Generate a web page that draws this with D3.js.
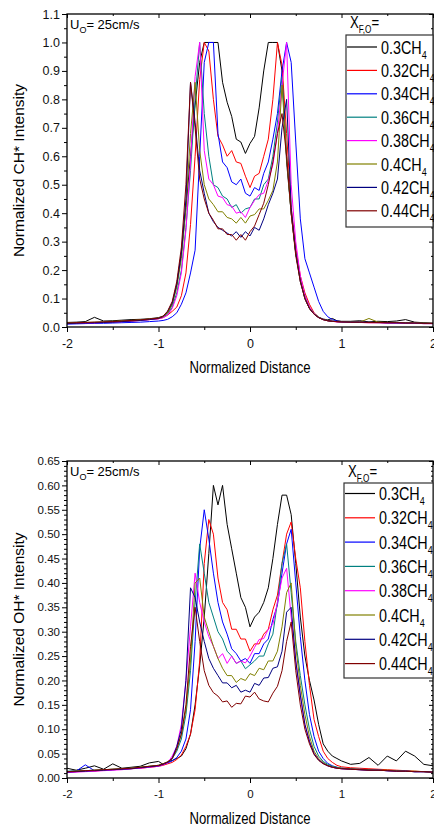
<!DOCTYPE html>
<html><head><meta charset="utf-8">
<script src="https://cdn.jsdelivr.net/npm/d3@7"></script>
<style>
html,body{margin:0;padding:0;background:#fff;}
svg{display:block;font-family:"Liberation Sans",Arial,sans-serif;}
</style></head>
<body><svg id="chart" width="434" height="828"></svg>
<script>
// ---------- DATA ----------
const xGrid = [-2,-1.9,-1.8,-1.7,-1.6,-1.5,-1.4,-1.3,-1.2,-1.1,-1.0,
 -0.95,-0.9,-0.85,-0.8,-0.75,-0.7,-0.65,-0.6,-0.55,
 -0.5,-0.45,-0.4,-0.35,-0.3,-0.25,-0.2,-0.15,-0.1,-0.05,
 0,0.05,0.1,0.15,0.2,0.25,0.3,0.35,0.4,0.45,
 0.5,0.55,0.6,0.65,0.7,0.75,0.8,0.85,0.9,0.95,1.0,
 1.1,1.2,1.3,1.4,1.5,1.6,1.7,1.8,1.9,2.0];

const seriesLabels = ["0.3","0.32","0.34","0.36","0.38","0.4","0.42","0.44"];
const seriesColors = ["#000000","#ff0000","#0000ff","#008080","#ff00ff","#808000","#000080","#800000"];

// CH* intensity
const ch030 = [0.016,0.017,0.019,0.034,0.021,0.022,0.024,0.026,0.027,0.029,0.033,
 0.038,0.05,0.08,0.15,0.26,0.42,0.6,0.78,0.93,
 1.0,1.0,1.0,1.0,0.86,0.79,0.74,0.66,0.65,0.61,
 0.645,0.67,0.77,0.9,1.0,1.0,1.0,0.9,0.58,0.4,
 0.26,0.17,0.1,0.065,0.045,0.034,0.028,0.025,0.03,0.022,0.02,
 0.02,0.022,0.018,0.02,0.019,0.021,0.026,0.017,0.015,0.013];
const ch032 = [0.012,0.013,0.013,0.014,0.016,0.017,0.019,0.021,0.023,0.026,0.029,
 0.033,0.042,0.055,0.07,0.11,0.19,0.36,0.6,0.87,
 1.0,0.97,0.8,0.67,0.64,0.6,0.62,0.58,0.575,0.53,
 0.49,0.53,0.54,0.6,0.66,0.8,1.0,0.92,0.68,0.42,
 0.28,0.18,0.12,0.08,0.05,0.035,0.026,0.022,0.02,0.018,0.017,
 0.016,0.016,0.015,0.015,0.014,0.014,0.013,0.013,0.012,0.012];
const ch034 = [0.01,0.011,0.012,0.013,0.013,0.014,0.015,0.016,0.017,0.019,0.021,
 0.023,0.027,0.036,0.05,0.08,0.12,0.19,0.27,0.6,
 0.93,1.0,1.0,0.68,0.58,0.56,0.51,0.5,0.52,0.47,
 0.46,0.49,0.48,0.54,0.58,0.66,0.75,0.9,1.0,0.93,
 0.65,0.38,0.24,0.19,0.14,0.09,0.055,0.036,0.026,0.021,0.019,
 0.018,0.017,0.016,0.016,0.015,0.014,0.014,0.013,0.012,0.012];
const ch036 = [0.013,0.014,0.015,0.016,0.017,0.018,0.02,0.022,0.024,0.027,0.03,
 0.035,0.045,0.07,0.12,0.2,0.35,0.55,0.8,1.0,
 0.75,0.6,0.5,0.49,0.46,0.45,0.42,0.43,0.4,0.415,
 0.42,0.45,0.45,0.5,0.52,0.6,0.72,0.88,0.6,0.4,
 0.26,0.17,0.11,0.07,0.048,0.035,0.027,0.023,0.021,0.019,0.018,
 0.017,0.016,0.016,0.015,0.015,0.014,0.014,0.013,0.013,0.012];
const ch038 = [0.012,0.013,0.014,0.015,0.016,0.018,0.019,0.021,0.023,0.026,0.029,
 0.033,0.042,0.065,0.11,0.19,0.34,0.58,0.88,1.0,
 0.62,0.52,0.5,0.46,0.455,0.43,0.425,0.4,0.405,0.385,
 0.42,0.445,0.465,0.47,0.515,0.57,0.68,0.85,1.0,0.5,
 0.3,0.18,0.11,0.07,0.046,0.033,0.026,0.022,0.02,0.018,0.017,
 0.016,0.016,0.015,0.015,0.014,0.014,0.013,0.013,0.012,0.012];
const ch040 = [0.014,0.015,0.016,0.017,0.018,0.02,0.021,0.023,0.025,0.028,0.031,
 0.036,0.05,0.08,0.14,0.24,0.42,0.68,0.86,0.62,
 0.5,0.45,0.43,0.405,0.405,0.385,0.38,0.365,0.385,0.365,
 0.39,0.395,0.415,0.415,0.445,0.48,0.58,0.85,0.6,0.4,
 0.26,0.16,0.1,0.065,0.045,0.033,0.026,0.022,0.02,0.019,0.018,
 0.018,0.017,0.03,0.017,0.016,0.016,0.015,0.015,0.014,0.013];
const ch042 = [0.012,0.013,0.014,0.015,0.016,0.017,0.019,0.021,0.023,0.026,0.03,
 0.037,0.055,0.085,0.15,0.26,0.45,0.86,0.72,0.55,
 0.47,0.4,0.37,0.35,0.34,0.33,0.32,0.335,0.315,0.335,
 0.32,0.35,0.34,0.38,0.43,0.47,0.52,0.7,0.8,0.42,
 0.26,0.16,0.1,0.065,0.045,0.033,0.026,0.022,0.02,0.019,0.018,
 0.017,0.017,0.016,0.016,0.015,0.015,0.014,0.014,0.013,0.013];
const ch044 = [0.014,0.015,0.016,0.017,0.018,0.019,0.021,0.023,0.025,0.028,0.031,
 0.038,0.056,0.09,0.16,0.28,0.5,0.86,0.7,0.52,
 0.45,0.4,0.375,0.345,0.345,0.325,0.325,0.305,0.325,0.305,
 0.335,0.355,0.395,0.435,0.5,0.58,0.68,0.75,0.6,0.4,
 0.25,0.16,0.1,0.065,0.045,0.033,0.026,0.022,0.02,0.019,0.018,
 0.017,0.017,0.016,0.016,0.015,0.015,0.014,0.014,0.013,0.013];

// OH* intensity
const oh030 = [0.02,0.016,0.02,0.025,0.018,0.029,0.02,0.022,0.024,0.031,0.034,
 0.028,0.033,0.036,0.04,0.045,0.06,0.09,0.15,0.23,
 0.33,0.46,0.6,0.56,0.6,0.52,0.47,0.42,0.37,0.35,
 0.31,0.33,0.34,0.36,0.39,0.45,0.52,0.58,0.58,0.54,
 0.44,0.33,0.25,0.2,0.16,0.11,0.07,0.055,0.045,0.04,0.035,
 0.028,0.03,0.042,0.026,0.045,0.035,0.055,0.045,0.028,0.025];
const oh032 = [0.012,0.013,0.015,0.014,0.016,0.017,0.018,0.019,0.02,0.022,0.024,
 0.026,0.029,0.032,0.038,0.047,0.065,0.09,0.14,0.24,
 0.44,0.53,0.5,0.41,0.36,0.345,0.305,0.305,0.285,0.285,
 0.26,0.275,0.275,0.295,0.305,0.345,0.375,0.44,0.5,0.525,
 0.45,0.39,0.28,0.19,0.12,0.085,0.055,0.04,0.032,0.026,0.023,
 0.021,0.02,0.019,0.018,0.017,0.016,0.015,0.014,0.013,0.012];
const oh034 = [0.013,0.014,0.027,0.015,0.016,0.017,0.018,0.019,0.021,0.023,0.025,
 0.028,0.031,0.035,0.042,0.055,0.08,0.14,0.28,0.47,
 0.55,0.49,0.42,0.36,0.32,0.295,0.265,0.255,0.24,0.245,
 0.235,0.255,0.255,0.275,0.285,0.325,0.355,0.42,0.48,0.51,
 0.4,0.29,0.2,0.13,0.085,0.055,0.04,0.03,0.025,0.022,0.02,
 0.019,0.018,0.017,0.016,0.015,0.015,0.014,0.013,0.013,0.012];
const oh036 = [0.014,0.015,0.015,0.016,0.017,0.018,0.019,0.02,0.022,0.024,0.026,
 0.029,0.033,0.04,0.055,0.08,0.13,0.22,0.36,0.48,
 0.42,0.36,0.33,0.3,0.285,0.26,0.25,0.235,0.24,0.224,
 0.232,0.24,0.25,0.25,0.275,0.295,0.36,0.44,0.48,0.38,
 0.28,0.21,0.15,0.1,0.065,0.045,0.034,0.028,0.024,0.022,0.02,
 0.018,0.017,0.016,0.016,0.015,0.014,0.014,0.013,0.013,0.012];
const oh038 = [0.011,0.012,0.013,0.014,0.015,0.016,0.017,0.019,0.02,0.022,0.024,
 0.027,0.031,0.045,0.065,0.11,0.2,0.31,0.42,0.36,
 0.32,0.29,0.27,0.245,0.255,0.235,0.25,0.235,0.24,0.236,
 0.25,0.268,0.284,0.286,0.305,0.315,0.36,0.41,0.43,0.33,
 0.24,0.17,0.11,0.075,0.05,0.038,0.03,0.025,0.022,0.02,0.019,
 0.018,0.017,0.016,0.016,0.015,0.014,0.014,0.013,0.013,0.012];
const oh040 = [0.013,0.014,0.015,0.016,0.017,0.018,0.019,0.02,0.022,0.024,0.026,
 0.029,0.033,0.04,0.06,0.09,0.14,0.24,0.4,0.41,
 0.33,0.3,0.27,0.245,0.225,0.21,0.21,0.196,0.204,0.2,
 0.214,0.21,0.225,0.222,0.24,0.24,0.26,0.31,0.38,0.4,
 0.27,0.19,0.13,0.085,0.055,0.04,0.032,0.026,0.023,0.021,0.02,
 0.019,0.018,0.017,0.016,0.016,0.015,0.014,0.014,0.013,0.012];
const oh042 = [0.012,0.013,0.014,0.015,0.016,0.017,0.018,0.019,0.021,0.023,0.025,
 0.028,0.032,0.04,0.065,0.1,0.2,0.39,0.37,0.32,
 0.28,0.245,0.225,0.21,0.195,0.195,0.185,0.19,0.176,0.18,
 0.176,0.194,0.19,0.205,0.206,0.225,0.228,0.26,0.34,0.35,
 0.24,0.17,0.11,0.075,0.05,0.037,0.03,0.025,0.022,0.02,0.019,
 0.018,0.017,0.016,0.016,0.015,0.014,0.014,0.013,0.013,0.012];
const oh044 = [0.013,0.014,0.015,0.016,0.017,0.018,0.019,0.02,0.022,0.024,0.026,
 0.029,0.033,0.04,0.06,0.09,0.15,0.27,0.35,0.28,
 0.22,0.19,0.175,0.168,0.156,0.158,0.145,0.153,0.152,0.168,
 0.166,0.176,0.162,0.158,0.156,0.174,0.188,0.22,0.28,0.32,
 0.22,0.15,0.1,0.07,0.048,0.036,0.029,0.025,0.022,0.02,0.019,
 0.018,0.017,0.016,0.016,0.015,0.014,0.014,0.013,0.013,0.012];

const xTicks = [-2,-1,0,1,2];
const xMinorTicks = [-1.5,-0.5,0.5,1.5];
const chYTicks = [0,0.1,0.2,0.3,0.4,0.5,0.6,0.7,0.8,0.9,1.0,1.1];
const ohYTicks = [0,0.05,0.1,0.15,0.2,0.25,0.3,0.35,0.4,0.45,0.5,0.55,0.6,0.65];

// ---------- DRAW ----------
const svg = d3.select("#chart");
const NARROW = 0.82;

function narrowText(g, x, y, size, anchor, parts){
  const grp = g.append("g").attr("transform", `translate(${x},${y}) scale(${NARROW},1)`);
  const t = grp.append("text").attr("font-size", size).attr("text-anchor", anchor).attr("fill","#000");
  parts.forEach(p => {
    const ts = t.append("tspan").text(p.t);
    if (p.size) ts.attr("font-size", p.size);
    if (p.dy) ts.attr("dy", p.dy);
  });
  return t;
}

function panel(cfg){
  const g = svg.append("g");
  const x = d3.scaleLinear().domain([-2,2]).range([67,433]);
  const y = d3.scaleLinear().domain(cfg.yDomain).range([cfg.bottom, cfg.top]);

  // lines
  const line = d3.line().x((d,i)=>x(xGrid[i])).y(d=>y(d));
  cfg.series.forEach((s,i)=>{
    g.append("path").datum(s).attr("d", line).attr("fill","none")
      .attr("stroke", seriesColors[i]).attr("stroke-width",1).attr("stroke-linejoin","round");
  });

  // axes
  const fs = cfg.tickFont;
  g.append("g").attr("transform",`translate(0,${cfg.bottom})`)
    .call(d3.axisBottom(x).tickValues(xTicks).tickSize(5).tickPadding(7).tickFormat(d=>String(d)));
  g.append("g").attr("transform",`translate(0,${cfg.bottom})`)
    .call(d3.axisBottom(x).tickValues(xMinorTicks).tickSize(3).tickFormat(""));
  g.append("g").attr("transform",`translate(0,${cfg.top})`)
    .call(d3.axisBottom(x).tickValues(xTicks).tickSize(4).tickFormat(""));
  g.append("g").attr("transform",`translate(0,${cfg.top})`)
    .call(d3.axisBottom(x).tickValues(xMinorTicks).tickSize(2).tickFormat(""));
  g.append("g").attr("transform",`translate(67,0)`)
    .call(d3.axisLeft(y).tickValues(cfg.yTicks).tickSize(5).tickPadding(2).tickFormat(d3.format(cfg.fmt)));
  g.append("g").attr("transform",`translate(67,0)`)
    .call(d3.axisLeft(y).tickValues(cfg.yMinor).tickSize(3).tickFormat(""));
  g.append("g").attr("transform",`translate(433,0)`)
    .call(d3.axisRight(y).tickValues(cfg.yTicks).tickSize(-4).tickFormat(""));
  g.append("g").attr("transform",`translate(433,0)`)
    .call(d3.axisRight(y).tickValues(cfg.yMinor).tickSize(-2).tickFormat(""));
  g.selectAll(".domain").remove();
  g.selectAll(".tick line").attr("stroke","#000").attr("stroke-width",1);
  g.selectAll(".tick text").attr("font-size",fs).attr("font-family","Liberation Sans, Arial, sans-serif").attr("fill","#111");

  // frame
  g.append("rect").attr("x",67).attr("y",cfg.top).attr("width",433-67).attr("height",cfg.bottom-cfg.top)
    .attr("fill","none").attr("stroke","#000").attr("stroke-width",1.3);

  // titles
  narrowText(g, 250, cfg.bottom+46, 16, "middle", [{t:"Normalized Distance"}]);
  g.append("text").attr("transform",`translate(24,${(cfg.top+cfg.bottom)/2}) rotate(-90)`)
    .attr("text-anchor","middle").attr("font-size",15.5).attr("fill","#000").text(cfg.yTitle);

  // U_O label
  const u = g.append("text").attr("x",70).attr("y",cfg.top+15).attr("font-size",13).attr("fill","#000");
  u.append("tspan").text("U");
  u.append("tspan").text("O").attr("font-size",9).attr("dy",4);
  u.append("tspan").text("= 25cm/s").attr("dy",-4);

  // legend
  const L = cfg.legend;
  narrowText(g, L.x+4, L.titleY, 16, "start",
    [{t:"X"},{t:"F,O",size:10,dy:5},{t:"=",dy:-5}]);
  g.append("rect").attr("x",L.x).attr("y",L.y).attr("width",433-L.x).attr("height",L.h)
    .attr("fill","#fff").attr("stroke","#333").attr("stroke-width",1.2);
  seriesLabels.forEach((lab,i)=>{
    const ly = L.first + i*L.step;
    g.append("line").attr("x1",L.x+1).attr("x2",L.x+31).attr("y1",ly).attr("y2",ly)
      .attr("stroke",seriesColors[i]).attr("stroke-width",1.2);
    narrowText(g, L.x+35, ly+6.5, 17.5, "start",
      [{t:lab+"CH"},{t:"4",size:11,dy:5}]);
  });
}

panel({
  top:14, bottom:327, yDomain:[0,1.1], yTicks:chYTicks,
  yMinor:[0.05,0.15,0.25,0.35,0.45,0.55,0.65,0.75,0.85,0.95,1.05],
  fmt:".1f", tickFont:12.5, yTitle:"Normalized CH* Intensity",
  series:[ch030,ch032,ch034,ch036,ch038,ch040,ch042,ch044],
  legend:{x:346, y:35, h:192, titleY:28, first:47, step:23.4}
});

const ohMinor = d3.range(0,66).map(d=>d/100).filter(v=>Math.round(v*100)%5!==0);
panel({
  top:461, bottom:778, yDomain:[0,0.65], yTicks:ohYTicks,
  yMinor:ohMinor,
  fmt:".2f", tickFont:11.5, yTitle:"Normalized OH* Intensity",
  series:[oh030,oh032,oh034,oh036,oh038,oh040,oh042,oh044],
  legend:{x:344, y:483, h:195, titleY:477, first:493.5, step:24.3}
});
</script></body></html>
